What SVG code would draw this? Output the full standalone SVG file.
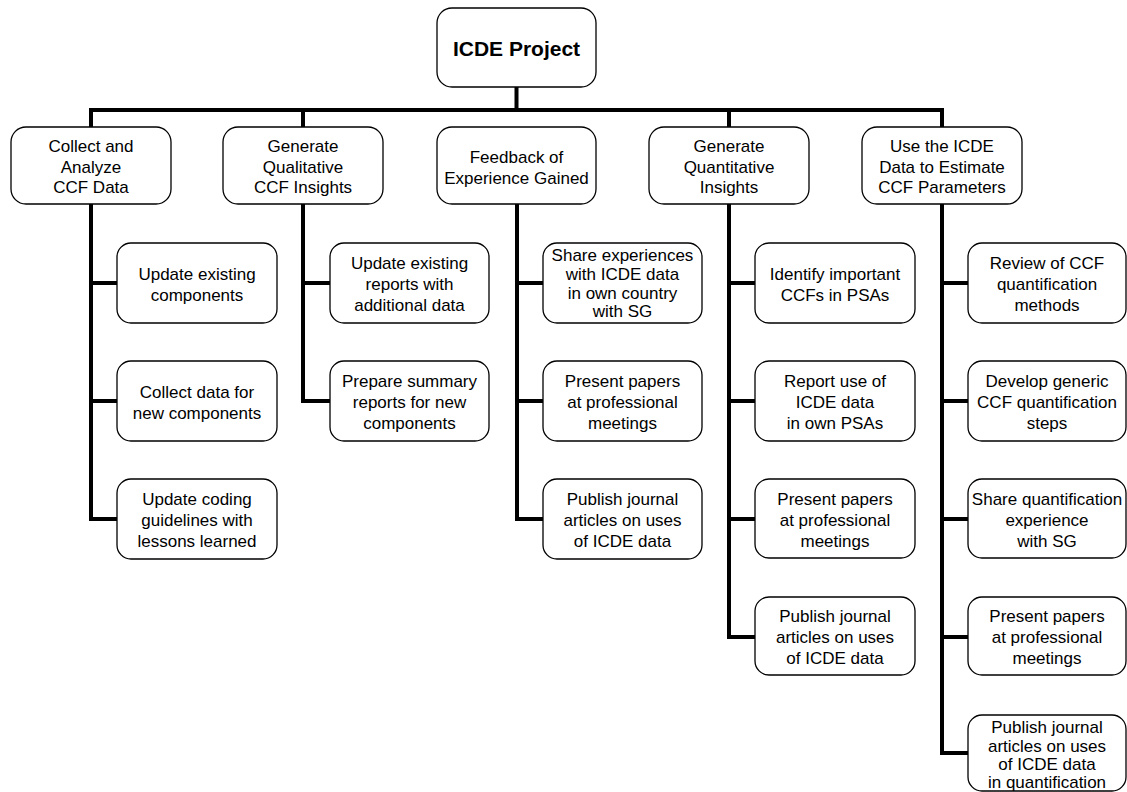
<svg xmlns="http://www.w3.org/2000/svg" width="1127" height="792" viewBox="0 0 1127 792">
<style>
.box{fill:#fff;stroke:#000;stroke-width:1.3}
.t{font-family:"Liberation Sans",Arial,sans-serif;font-size:17px;fill:#000;text-anchor:middle}
.root{font-family:"Liberation Sans",Arial,sans-serif;font-size:21px;font-weight:bold;fill:#000;text-anchor:middle}
.c{fill:none;stroke:#000;stroke-width:4;stroke-linecap:square;stroke-linejoin:miter}
</style>
<rect width="1127" height="792" fill="#fff"/>
<g id="connectors">
<path class="c" d="M516.5 87 V110 M91 110 H942 M91 110 V127 M303 110 V127 M729 110 V127 M942 110 V127"/>
<path class="c" d="M91 204 V519 H117 M91 283 H117 M91 401 H117"/>
<path class="c" d="M303 204 V401 H330 M303 283 H330"/>
<path class="c" d="M517 204 V519 H543 M517 283 H543 M517 401 H543"/>
<path class="c" d="M729 204 V637 H755 M729 283 H755 M729 401 H755 M729 519 H755"/>
<path class="c" d="M942 204 V753 H968 M942 283 H968 M942 401 H968 M942 519 H968 M942 637 H968"/>
</g>
<g id="root"><rect class="box" x="437" y="8" width="159" height="79" rx="15"/><text class="root" x="516.5" y="56">ICDE Project</text></g>

<g id="n1"><rect class="box" x="11" y="127" width="160" height="77" rx="15"/><text class="t" x="91"><tspan x="91" y="152">Collect and</tspan><tspan x="91" y="172.5">Analyze</tspan><tspan x="91" y="193">CCF Data</tspan></text></g>
<g id="n2"><rect class="box" x="223" y="127" width="160" height="77" rx="15"/><text class="t"><tspan x="303" y="152">Generate</tspan><tspan x="303" y="172.5">Qualitative</tspan><tspan x="303" y="193">CCF Insights</tspan></text></g>
<g id="n3"><rect class="box" x="437" y="127" width="159" height="77" rx="15"/><text class="t"><tspan x="516.5" y="163">Feedback of</tspan><tspan x="516.5" y="184">Experience Gained</tspan></text></g>
<g id="n4"><rect class="box" x="649" y="127" width="160" height="77" rx="15"/><text class="t"><tspan x="729" y="152">Generate</tspan><tspan x="729" y="172.5">Quantitative</tspan><tspan x="729" y="193">Insights</tspan></text></g>
<g id="n5"><rect class="box" x="862" y="127" width="160" height="77" rx="15"/><text class="t"><tspan x="942" y="152">Use the ICDE</tspan><tspan x="942" y="172.5">Data to Estimate</tspan><tspan x="942" y="193">CCF Parameters</tspan></text></g>

<g id="n1a"><rect class="box" x="117" y="243" width="160" height="80" rx="14"/><text class="t"><tspan x="197" y="280">Update existing</tspan><tspan x="197" y="301">components</tspan></text></g>
<g id="n1b"><rect class="box" x="117" y="361" width="160" height="80" rx="14"/><text class="t"><tspan x="197" y="398">Collect data for</tspan><tspan x="197" y="419">new components</tspan></text></g>
<g id="n1c"><rect class="box" x="117" y="479" width="160" height="80" rx="14"/><text class="t"><tspan x="197" y="505">Update coding</tspan><tspan x="197" y="526">guidelines with</tspan><tspan x="197" y="547">lessons learned</tspan></text></g>

<g id="n2a"><rect class="box" x="330" y="243" width="159" height="80" rx="14"/><text class="t"><tspan x="409.5" y="269">Update existing</tspan><tspan x="409.5" y="290">reports with</tspan><tspan x="409.5" y="311">additional data</tspan></text></g>
<g id="n2b"><rect class="box" x="330" y="361" width="159" height="80" rx="14"/><text class="t"><tspan x="409.5" y="387">Prepare summary</tspan><tspan x="409.5" y="408">reports for new</tspan><tspan x="409.5" y="429">components</tspan></text></g>

<g id="n3a"><rect class="box" x="543" y="243" width="159" height="80" rx="14"/><text class="t"><tspan x="622.5" y="261">Share experiences</tspan><tspan x="622.5" y="280">with ICDE data</tspan><tspan x="622.5" y="299">in own country</tspan><tspan x="622.5" y="317">with SG</tspan></text></g>
<g id="n3b"><rect class="box" x="543" y="361" width="159" height="80" rx="14"/><text class="t"><tspan x="622.5" y="387">Present papers</tspan><tspan x="622.5" y="408">at professional</tspan><tspan x="622.5" y="429">meetings</tspan></text></g>
<g id="n3c"><rect class="box" x="543" y="479" width="159" height="80" rx="14"/><text class="t"><tspan x="622.5" y="505">Publish journal</tspan><tspan x="622.5" y="526">articles on uses</tspan><tspan x="622.5" y="547">of ICDE data</tspan></text></g>

<g id="n4a"><rect class="box" x="755" y="243" width="160" height="80" rx="14"/><text class="t"><tspan x="835" y="280">Identify important</tspan><tspan x="835" y="301">CCFs in PSAs</tspan></text></g>
<g id="n4b"><rect class="box" x="755" y="361" width="160" height="80" rx="14"/><text class="t"><tspan x="835" y="387">Report use of</tspan><tspan x="835" y="408">ICDE data</tspan><tspan x="835" y="429">in own PSAs</tspan></text></g>
<g id="n4c"><rect class="box" x="755" y="479" width="160" height="79" rx="14"/><text class="t"><tspan x="835" y="505">Present papers</tspan><tspan x="835" y="526">at professional</tspan><tspan x="835" y="547">meetings</tspan></text></g>
<g id="n4d"><rect class="box" x="755" y="597" width="160" height="78" rx="14"/><text class="t"><tspan x="835" y="622">Publish journal</tspan><tspan x="835" y="643">articles on uses</tspan><tspan x="835" y="664">of ICDE data</tspan></text></g>

<g id="n5a"><rect class="box" x="968" y="243" width="158" height="80" rx="14"/><text class="t"><tspan x="1047" y="269">Review of CCF</tspan><tspan x="1047" y="290">quantification</tspan><tspan x="1047" y="311">methods</tspan></text></g>
<g id="n5b"><rect class="box" x="968" y="361" width="158" height="80" rx="14"/><text class="t"><tspan x="1047" y="387">Develop generic</tspan><tspan x="1047" y="408">CCF quantification</tspan><tspan x="1047" y="429">steps</tspan></text></g>
<g id="n5c"><rect class="box" x="968" y="479" width="158" height="79" rx="14"/><text class="t"><tspan x="1047" y="505">Share quantification</tspan><tspan x="1047" y="526">experience</tspan><tspan x="1047" y="547">with SG</tspan></text></g>
<g id="n5d"><rect class="box" x="968" y="597" width="158" height="78" rx="14"/><text class="t"><tspan x="1047" y="622">Present papers</tspan><tspan x="1047" y="643">at professional</tspan><tspan x="1047" y="664">meetings</tspan></text></g>
<g id="n5e"><rect class="box" x="968" y="715" width="158" height="76" rx="14"/><text class="t"><tspan x="1047" y="733">Publish journal</tspan><tspan x="1047" y="752">articles on uses</tspan><tspan x="1047" y="770">of ICDE data</tspan><tspan x="1047" y="788">in quantification</tspan></text></g>
</svg>
